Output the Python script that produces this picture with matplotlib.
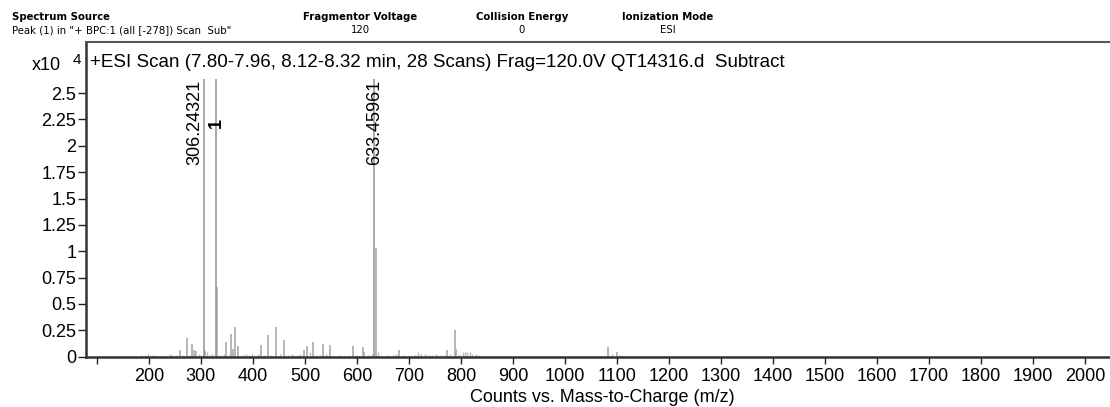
import matplotlib.pyplot as plt

# main labelled peaks (counts x10^4)
main_mz = [306.24321, 328.8, 633.45961]
main_int = [2.63, 2.63, 2.63]
main_labels = ['306.24321', '', '633.45961']

# isotope / secondary peaks
minor_mz = [331.0, 636.5, 259, 273, 283, 286, 290, 308, 348, 358, 362, 366, 372,
            415, 428, 445, 460, 498, 503, 515, 534, 548, 592, 611, 614, 681, 774,
            789, 791, 1083, 1100]
minor_int = [0.66, 1.03, 0.06, 0.18, 0.12, 0.06, 0.05, 0.05, 0.14, 0.22, 0.07, 0.28, 0.10,
             0.11, 0.21, 0.28, 0.16, 0.06, 0.10, 0.14, 0.12, 0.11, 0.10, 0.09, 0.04, 0.06, 0.06,
             0.25, 0.07, 0.09, 0.04]

# low-level noise
noise_mz = [125, 140, 152, 168, 185, 192, 198, 205, 212, 228, 240, 245, 252, 265, 278,
            296, 300, 312, 318, 322, 337, 344, 354, 380, 386, 392, 398, 405, 410, 421,
            434, 440, 452, 468, 475, 484, 491, 509, 521, 528, 540, 556, 565, 575, 585,
            600, 622, 628, 640, 650, 660, 669, 675, 690, 700, 712, 718, 724, 731, 738,
            745, 752, 760, 767, 779, 797, 803, 808, 812, 817, 822, 828, 835, 850, 870,
            1090, 1105, 1200]
noise_int = [0.01, 0.01, 0.01, 0.01, 0.02, 0.02, 0.03, 0.02, 0.02, 0.01, 0.03, 0.02, 0.02, 0.02, 0.02,
             0.03, 0.02, 0.04, 0.02, 0.03, 0.02, 0.03, 0.02, 0.02, 0.03, 0.02, 0.03, 0.01, 0.03, 0.02,
             0.02, 0.01, 0.03, 0.02, 0.03, 0.02, 0.03, 0.04, 0.02, 0.02, 0.03, 0.01, 0.02, 0.01, 0.02,
             0.02, 0.02, 0.03, 0.04, 0.01, 0.02, 0.02, 0.03, 0.02, 0.01, 0.02, 0.04, 0.03, 0.03, 0.02,
             0.02, 0.03, 0.02, 0.02, 0.03, 0.03, 0.04, 0.04, 0.04, 0.04, 0.03, 0.03, 0.02, 0.01, 0.01,
             0.03, 0.02, 0.01]

xticks = list(range(100, 2001, 100))
yticks = [0, 0.25, 0.5, 0.75, 1, 1.25, 1.5, 1.75, 2, 2.25, 2.5]

plt.rcParams['font.family'] = ['Liberation Sans', 'DejaVu Sans']
FS = 13

fig = plt.figure(figsize=(11.1, 4.07), dpi=100)
ax = fig.add_axes([0.0775, 0.1236, 0.93, 0.7732])

ax.plot([100, 2000], [0, 0], color='#aaaaaa', lw=1)
ax.vlines(noise_mz, 0, noise_int, colors='#bbbbbb', lw=1)
ax.vlines(minor_mz, 0, minor_int, colors='#aaaaaa', lw=1.2)
ax.vlines(main_mz, 0, main_int, colors='#999999', lw=1.2)

for mz, h, lab in zip(main_mz, main_int, main_labels):
    if not lab:
        continue
    dx = -9 if mz < 400 else 0
    ax.annotate(lab, (mz, h), xytext=(dx, 0), textcoords='offset pixels',
                rotation=90, ha='center', va='top', fontsize=FS)
ax.text(main_mz[1], 2.22, '1', rotation=90, ha='center', va='center',
        fontsize=FS, fontweight='bold')

ax.set_xlim(79, 2064)
ax.set_ylim(0, 2.985)
ax.set_xticks(xticks)
ax.set_xticklabels(['' if t == 100 else str(t) for t in xticks], fontsize=FS)
ax.set_yticks(yticks)
ax.set_yticklabels(['%g' % t for t in yticks], fontsize=FS)
ax.tick_params(axis='x', length=5, width=1, color='#222222', pad=3)
ax.tick_params(axis='y', length=6, width=1, color='#222222', pad=1)

for s in ['left', 'bottom']:
    ax.spines[s].set_color('#333333')
    ax.spines[s].set_linewidth(1.8)
ax.spines['top'].set_color('#555555')
ax.spines['top'].set_linewidth(1.5)
ax.spines['right'].set_visible(False)

ax.set_xlabel('Counts vs. Mass-to-Charge (m/z)', fontsize=FS, labelpad=3)
ax.text(0.004, 0.935, '+ESI Scan (7.80-7.96, 8.12-8.32 min, 28 Scans) Frag=120.0V QT14316.d  Subtract',
        transform=ax.transAxes, fontsize=13.5, va='center', ha='left')

fig.text(32 / 1110, 1 - 65 / 407, 'x10', fontsize=FS, va='center', ha='left')
fig.text(73 / 1110, 1 - 60 / 407, '4', fontsize=11, va='center', ha='left')

# header block
hdr = dict(fontsize=7.3, family='DejaVu Sans')
fig.text(12 / 1110, 1 - 17 / 407, 'Spectrum Source', fontweight='bold', va='center', ha='left', **hdr)
fig.text(12 / 1110, 1 - 30 / 407, 'Peak (1) in "+ BPC:1 (all [-278]) Scan  Sub"', va='center', ha='left', **hdr)
for xc, title, val in [(360, 'Fragmentor Voltage', '120'), (522, 'Collision Energy', '0'),
                       (668, 'Ionization Mode', 'ESI')]:
    fig.text(xc / 1110, 1 - 17 / 407, title, fontweight='bold', va='center', ha='center', **hdr)
    fig.text(xc / 1110, 1 - 30 / 407, val, va='center', ha='center', **hdr)

fig.savefig('out.png', dpi=100)
